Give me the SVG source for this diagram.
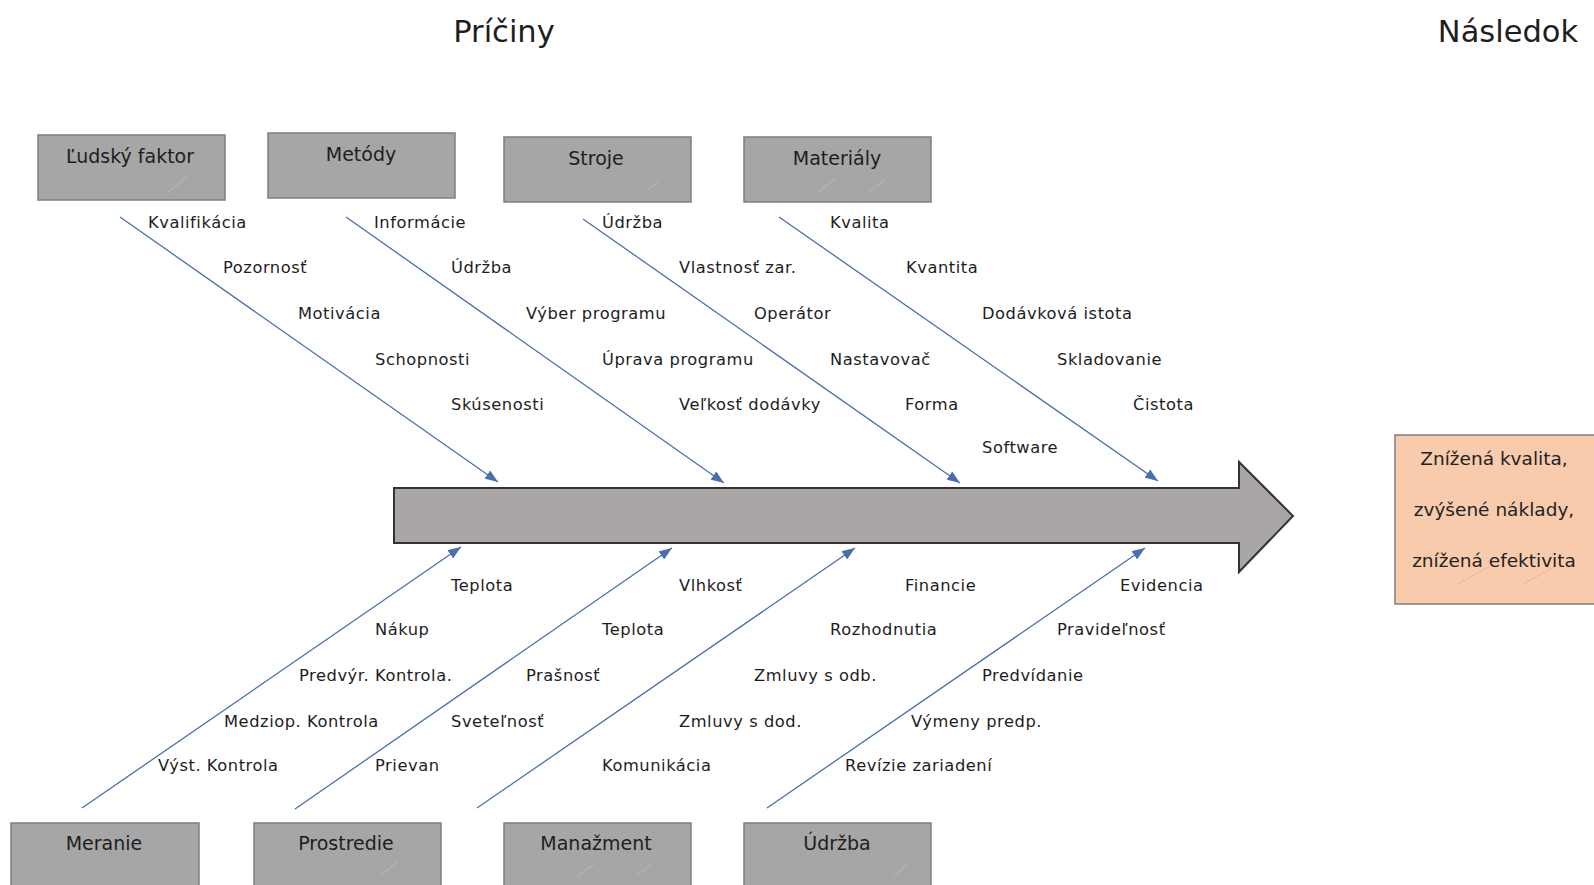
<svg xmlns="http://www.w3.org/2000/svg" width="1594" height="885" viewBox="0 0 1594 885">
<style>
.box{fill:#a6a6a6;stroke:#7f7f7f;stroke-width:1.5}
.bl{font-family:"DejaVu Sans","Open Sans",sans-serif;font-size:19px;fill:#1e1e1e;text-anchor:middle}
.t{font-family:"DejaVu Sans","Open Sans",sans-serif;font-size:16.3px;letter-spacing:0.55px;fill:#1e1e1e}
.title{font-family:"DejaVu Sans","Open Sans",sans-serif;font-size:30.5px;fill:#1e1e1e;text-anchor:middle}
.res{font-family:"DejaVu Sans","Open Sans",sans-serif;font-size:18.5px;fill:#222;text-anchor:middle}
.con{stroke:#4a6fae;stroke-width:1.3;fill:none;marker-end:url(#ah)}
.faint{stroke:#b9b9b9;stroke-width:1.2;fill:none;opacity:0.7}
</style>
<defs>
<marker id="ah" markerUnits="userSpaceOnUse" markerWidth="14" markerHeight="10" refX="13" refY="5" orient="auto">
<path d="M0,0 L13,5 L0,10 z" fill="#4a6fae"/>
</marker>
</defs>
<rect width="1594" height="885" fill="#ffffff"/>
<text class="title" x="504" y="42">Príčiny</text>
<text class="title" x="1508" y="42">Následok</text>

<g id="spine">
<path d="M394,488 L1239,488 L1239,462 L1293,516 L1239,572 L1239,543 L394,543 Z" fill="#a9a6a5" stroke="#333" stroke-width="2"/>
</g>

<g id="connectors">
<line class="con" x1="120" y1="217" x2="498" y2="482"/>
<line class="con" x1="346" y1="217" x2="724" y2="483"/>
<line class="con" x1="583" y1="219" x2="960" y2="483"/>
<line class="con" x1="779" y1="217" x2="1158" y2="481"/>
<line class="con" x1="82" y1="808" x2="461" y2="547"/>
<line class="con" x1="295" y1="809" x2="672" y2="548"/>
<line class="con" x1="477" y1="808" x2="855" y2="548"/>
<line class="con" x1="767" y1="808" x2="1145" y2="548"/>
</g>

<g id="n-ludsky">
<rect class="box" x="38" y="135" width="187" height="65"/>
<line class="faint" x1="168" y1="192" x2="188" y2="176"/>
<text class="bl" x="130" y="163">Ľudský faktor</text>
</g>
<g id="n-metody">
<rect class="box" x="268" y="133" width="187" height="65"/>
<text class="bl" x="361" y="161">Metódy</text>
</g>
<g id="n-stroje">
<rect class="box" x="504" y="137" width="187" height="65"/>
<line class="faint" x1="648" y1="190" x2="658" y2="182"/>
<text class="bl" x="596" y="165">Stroje</text>
</g>
<g id="n-materialy">
<rect class="box" x="744" y="137" width="187" height="65"/>
<line class="faint" x1="818" y1="192" x2="835" y2="179"/>
<line class="faint" x1="868" y1="192" x2="886" y2="179"/>
<text class="bl" x="837" y="165">Materiály</text>
</g>
<g id="n-meranie">
<rect class="box" x="11" y="823" width="188" height="70"/>
<text class="bl" x="104" y="850">Meranie</text>
</g>
<g id="n-prostredie">
<rect class="box" x="254" y="823" width="187" height="70"/>
<line class="faint" x1="380" y1="876" x2="398" y2="862"/>
<text class="bl" x="346" y="850">Prostredie</text>
</g>
<g id="n-manazment">
<rect class="box" x="504" y="823" width="187" height="70"/>
<line class="faint" x1="578" y1="876" x2="594" y2="864"/>
<line class="faint" x1="636" y1="876" x2="652" y2="864"/>
<text class="bl" x="596" y="850">Manažment</text>
</g>
<g id="n-udrzba">
<rect class="box" x="744" y="823" width="187" height="70"/>
<line class="faint" x1="894" y1="876" x2="908" y2="864"/>
<text class="bl" x="837" y="850">Údržba</text>
</g>
<g id="n-nasledok">
<rect x="1395" y="435" width="205" height="169" fill="#f8cbad" stroke="#7f7f7f" stroke-width="1.5"/>
<line x1="1458" y1="584" x2="1490" y2="566" stroke="#e8b596" stroke-width="1"/>
<line x1="1523" y1="584" x2="1556" y2="566" stroke="#e8b596" stroke-width="1"/>
<text class="res" x="1494" y="465">Znížená kvalita,</text>
<text class="res" x="1494" y="516">zvýšené náklady,</text>
<text class="res" x="1494" y="567">znížená efektivita</text>
</g>

<g id="labels-ludsky">
<text class="t" x="148" y="228">Kvalifikácia</text>
<text class="t" x="223" y="273">Pozornosť</text>
<text class="t" x="298" y="319">Motivácia</text>
<text class="t" x="375" y="365">Schopnosti</text>
<text class="t" x="451" y="410">Skúsenosti</text>
</g>
<g id="labels-metody">
<text class="t" x="374" y="228">Informácie</text>
<text class="t" x="451" y="273">Údržba</text>
<text class="t" x="526" y="319">Výber programu</text>
<text class="t" x="602" y="365">Úprava programu</text>
<text class="t" x="679" y="410">Veľkosť dodávky</text>
</g>
<g id="labels-stroje">
<text class="t" x="602" y="228">Údržba</text>
<text class="t" x="679" y="273">Vlastnosť zar.</text>
<text class="t" x="754" y="319">Operátor</text>
<text class="t" x="830" y="365">Nastavovač</text>
<text class="t" x="905" y="410">Forma</text>
<text class="t" x="982" y="453">Software</text>
</g>
<g id="labels-materialy">
<text class="t" x="830" y="228">Kvalita</text>
<text class="t" x="906" y="273">Kvantita</text>
<text class="t" x="982" y="319">Dodávková istota</text>
<text class="t" x="1057" y="365">Skladovanie</text>
<text class="t" x="1133" y="410">Čistota</text>
</g>
<g id="labels-meranie">
<text class="t" x="451" y="591">Teplota</text>
<text class="t" x="375" y="635">Nákup</text>
<text class="t" x="299" y="681">Predvýr. Kontrola.</text>
<text class="t" x="224" y="727">Medziop. Kontrola</text>
<text class="t" x="158" y="771">Výst. Kontrola</text>
</g>
<g id="labels-prostredie">
<text class="t" x="679" y="591">Vlhkosť</text>
<text class="t" x="602" y="635">Teplota</text>
<text class="t" x="526" y="681">Prašnosť</text>
<text class="t" x="451" y="727">Sveteľnosť</text>
<text class="t" x="375" y="771">Prievan</text>
</g>
<g id="labels-manazment">
<text class="t" x="905" y="591">Financie</text>
<text class="t" x="830" y="635">Rozhodnutia</text>
<text class="t" x="754" y="681">Zmluvy s odb.</text>
<text class="t" x="679" y="727">Zmluvy s dod.</text>
<text class="t" x="602" y="771">Komunikácia</text>
</g>
<g id="labels-udrzba">
<text class="t" x="1120" y="591">Evidencia</text>
<text class="t" x="1057" y="635">Pravideľnosť</text>
<text class="t" x="982" y="681">Predvídanie</text>
<text class="t" x="911" y="727">Výmeny predp.</text>
<text class="t" x="845" y="771">Revízie zariadení</text>
</g>
</svg>
